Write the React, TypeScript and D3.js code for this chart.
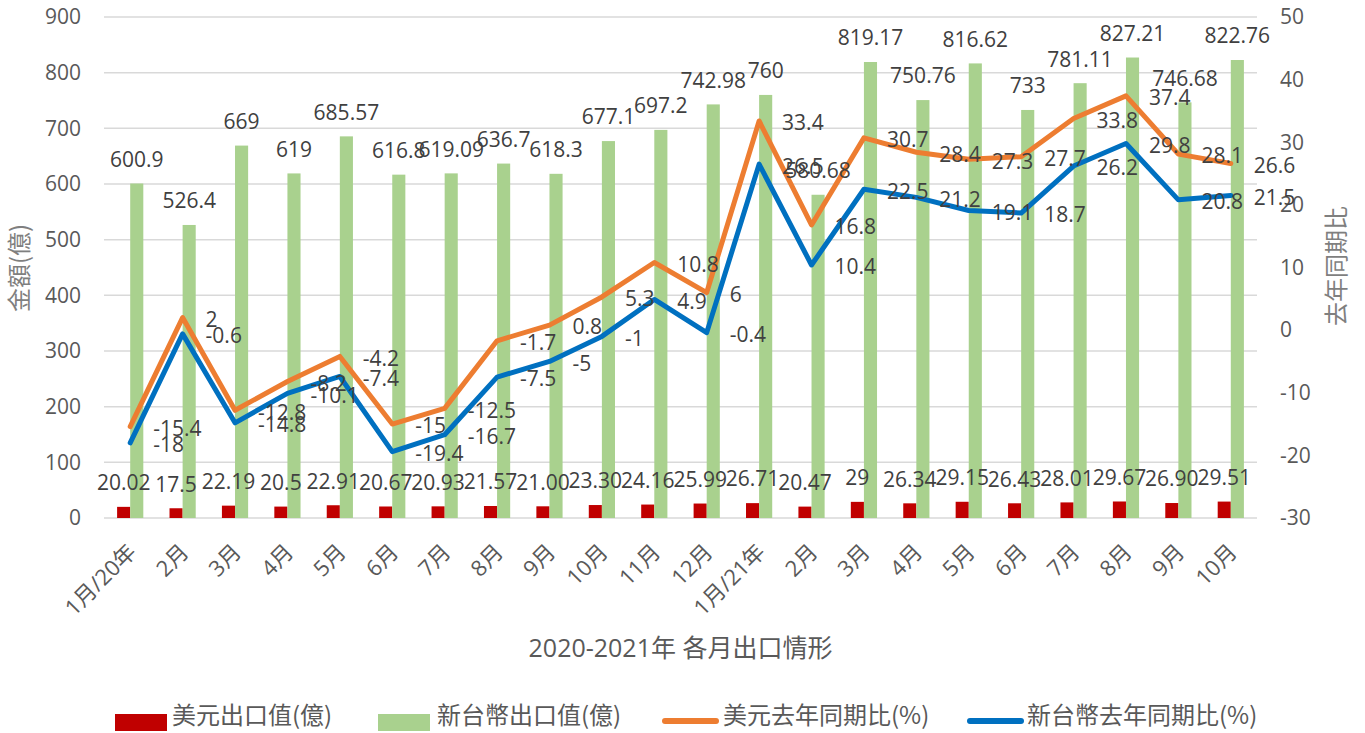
import React, { useEffect, useRef } from 'react';
import * as d3 from 'd3';

const months = [
  '1月/20年', '2月', '3月', '4月', '5月', '6月', '7月', '8月', '9月', '10月', '11月', '12月',
  '1月/21年', '2月', '3月', '4月', '5月', '6月', '7月', '8月', '9月', '10月',
];
// 美元出口值(億)
const usdValues = [
  20.02, 17.5, 22.19, 20.5, 22.91, 20.67, 20.93, 21.57, 21.0, 23.3, 24.16, 25.99,
  26.71, 20.47, 29, 26.34, 29.15, 26.43, 28.01, 29.67, 26.9, 29.51,
];
const usdLabels = [
  '20.02', '17.5', '22.19', '20.5', '22.91', '20.67', '20.93', '21.57', '21.00', '23.30', '24.16', '25.99',
  '26.71', '20.47', '29', '26.34', '29.15', '26.43', '28.01', '29.67', '26.90', '29.51',
];
// 新台幣出口值(億)
const ntdValues = [
  600.9, 526.4, 669, 619, 685.57, 616.8, 619.09, 636.7, 618.3, 677.1, 697.2, 742.98,
  760, 580.68, 819.17, 750.76, 816.62, 733, 781.11, 827.21, 746.68, 822.76,
];
// 美元去年同期比(%)
const usdYoY = [
  -15.4, 2, -12.8, -8.2, -4.2, -15, -12.5, -1.7, 0.8, 5.3, 10.8, 6,
  33.4, 16.8, 30.7, 28.4, 27.3, 27.7, 33.8, 37.4, 28.1, 26.6,
];
// 新台幣去年同期比(%)
const ntdYoY = [
  -18, -0.6, -14.8, -10.1, -7.4, -19.4, -16.7, -7.5, -5, -1, 4.9, -0.4,
  26.5, 10.4, 22.5, 21.2, 19.1, 18.7, 26.2, 29.8, 20.8, 21.5,
];
const leftTicks = [0, 100, 200, 300, 400, 500, 600, 700, 800, 900];
const rightTicks = [-30, -20, -10, 0, 10, 20, 30, 40, 50];
const seriesNames = ['美元出口值(億)', '新台幣出口值(億)', '美元去年同期比(%)', '新台幣去年同期比(%)'];

const W = 1365;
const H = 733;
const NUM_FONT = "'Open Sans', 'Noto Sans CJK TC', sans-serif";
const CJK_FONT = "'Noto Sans CJK TC', 'Open Sans', sans-serif";

export default function App() {
  const ref = useRef<SVGSVGElement>(null);

  useEffect(() => {
    document.body.style.margin = '0';
    const svg = d3.select(ref.current);
    svg.selectAll('*').remove();

    const left = 104;
    const right = 1257;
    const top = 17;
    const bottom = 518;

    const x = d3
      .scaleBand<number>()
      .domain(d3.range(months.length))
      .range([left, right])
      .paddingInner(0.5)
      .paddingOuter(0.25);
    const sub = d3.scaleBand<string>().domain(['usd', 'ntd']).range([0, x.bandwidth()]);
    const yL = d3.scaleLinear().domain([0, 900]).range([bottom, top]);
    const yR = d3.scaleLinear().domain([-30, 50]).range([bottom, top]);
    const cx = (i: number) => (x(i) as number) + x.bandwidth() / 2;

    // gridlines
    svg
      .append('g')
      .selectAll('line')
      .data(leftTicks)
      .enter()
      .append('line')
      .attr('x1', left)
      .attr('x2', right)
      .attr('y1', (d) => yL(d))
      .attr('y2', (d) => yL(d))
      .style('stroke', '#d9d9d9')
      .style('stroke-width', 1.5);

    // tick labels
    svg
      .append('g')
      .selectAll('text')
      .data(leftTicks)
      .enter()
      .append('text')
      .attr('x', 81)
      .attr('y', (d) => yL(d))
      .attr('dy', '0.35em')
      .attr('text-anchor', 'end')
      .style('font-family', NUM_FONT)
      .style('font-size', '21px')
      .style('fill', '#595959')
      .text((d) => d);
    svg
      .append('g')
      .selectAll('text')
      .data(rightTicks)
      .enter()
      .append('text')
      .attr('x', 1280)
      .attr('y', (d) => yR(d))
      .attr('dy', '0.35em')
      .attr('text-anchor', 'start')
      .style('font-family', NUM_FONT)
      .style('font-size', '21px')
      .style('fill', '#595959')
      .text((d) => d);

    // axis titles
    svg
      .append('text')
      .attr('transform', 'translate(20,268) rotate(-90)')
      .attr('dy', '0.35em')
      .attr('text-anchor', 'middle')
      .style('font-family', CJK_FONT)
      .style('font-size', '24px')
      .style('fill', '#7f7f7f')
      .text('金額(億)');
    svg
      .append('text')
      .attr('transform', 'translate(1337,266) rotate(-90)')
      .attr('dy', '0.35em')
      .attr('text-anchor', 'middle')
      .style('font-family', CJK_FONT)
      .style('font-size', '24px')
      .style('fill', '#7f7f7f')
      .text('去年同期比');

    // month labels
    svg
      .append('g')
      .selectAll('text')
      .data(months)
      .enter()
      .append('text')
      .attr('transform', (d, i) => `translate(${cx(i) - 5},541) rotate(-45)`)
      .attr('dy', '0.8em')
      .attr('text-anchor', 'end')
      .style('font-family', NUM_FONT)
      .style('font-size', '22px')
      .style('fill', '#595959')
      .text((d) => d);

    svg
      .append('text')
      .attr('x', (left + right) / 2)
      .attr('y', 648)
      .attr('dy', '0.35em')
      .attr('text-anchor', 'middle')
      .style('font-family', NUM_FONT)
      .style('font-size', '25px')
      .style('fill', '#595959')
      .text('2020-2021年 各月出口情形');

    // bars
    svg
      .append('g')
      .selectAll('rect')
      .data(usdValues)
      .enter()
      .append('rect')
      .attr('x', (d, i) => (x(i) as number) + (sub('usd') as number))
      .attr('y', (d) => yL(d))
      .attr('width', sub.bandwidth())
      .attr('height', (d) => bottom - yL(d))
      .style('fill', '#c00000');
    svg
      .append('g')
      .selectAll('rect')
      .data(ntdValues)
      .enter()
      .append('rect')
      .attr('x', (d, i) => (x(i) as number) + (sub('ntd') as number))
      .attr('y', (d) => yL(d))
      .attr('width', sub.bandwidth())
      .attr('height', (d) => bottom - yL(d))
      .style('fill', '#a9d18e');

    // lines
    const line = d3
      .line<number>()
      .x((d, i) => cx(i))
      .y((d) => yR(d));
    svg
      .append('path')
      .attr('d', line(usdYoY))
      .style('fill', 'none')
      .style('stroke', '#ed7d31')
      .style('stroke-width', 5)
      .style('stroke-linejoin', 'round')
      .style('stroke-linecap', 'round');
    svg
      .append('path')
      .attr('d', line(ntdYoY))
      .style('fill', 'none')
      .style('stroke', '#0070c0')
      .style('stroke-width', 5)
      .style('stroke-linejoin', 'round')
      .style('stroke-linecap', 'round');

    // data labels
    const labelStyle = (sel: any) =>
      sel
        .attr('dy', '0.35em')
        .style('font-family', NUM_FONT)
        .style('font-size', '21px')
        .style('fill', '#404040');

    svg
      .append('g')
      .selectAll('text')
      .data(usdValues)
      .enter()
      .append('text')
      .attr('x', (d, i) => (x(i) as number) + (sub('usd') as number) + sub.bandwidth() / 2)
      .attr('y', (d) => yL(d) - 24)
      .attr('text-anchor', 'middle')
      .call(labelStyle)
      .text((d, i) => usdLabels[i]);
    svg
      .append('g')
      .selectAll('text')
      .data(ntdValues)
      .enter()
      .append('text')
      .attr('x', (d, i) => (x(i) as number) + (sub('ntd') as number) + sub.bandwidth() / 2)
      .attr('y', (d) => yL(d) - 24)
      .attr('text-anchor', 'middle')
      .call(labelStyle)
      .text((d) => d);
    [usdYoY, ntdYoY].forEach((series) => {
      svg
        .append('g')
        .selectAll('text')
        .data(series)
        .enter()
        .append('text')
        .attr('x', (d, i) => cx(i) + 23)
        .attr('y', (d) => yR(d) + 2)
        .attr('text-anchor', 'start')
        .call(labelStyle)
        .text((d) => d);
    });

    // legend
    const lg = svg.append('g').style('font-family', CJK_FONT).style('font-size', '24px').style('fill', '#595959');
    lg.append('rect').attr('x', 115).attr('y', 714).attr('width', 52).attr('height', 17).style('fill', '#c00000');
    lg.append('text').attr('x', 172).attr('y', 716).attr('dy', '0.35em').text(seriesNames[0]);
    lg.append('rect').attr('x', 378).attr('y', 714).attr('width', 52).attr('height', 17).style('fill', '#a9d18e');
    lg.append('text').attr('x', 437).attr('y', 716).attr('dy', '0.35em').text(seriesNames[1]);
    lg.append('line')
      .attr('x1', 665).attr('x2', 716).attr('y1', 721).attr('y2', 721)
      .style('stroke', '#ed7d31').style('stroke-width', 6).style('stroke-linecap', 'round');
    lg.append('text').attr('x', 723).attr('y', 716).attr('dy', '0.35em').text(seriesNames[2]);
    lg.append('line')
      .attr('x1', 970).attr('x2', 1021).attr('y1', 721).attr('y2', 721)
      .style('stroke', '#0070c0').style('stroke-width', 6).style('stroke-linecap', 'round');
    lg.append('text').attr('x', 1027).attr('y', 716).attr('dy', '0.35em').text(seriesNames[3]);
  }, []);

  return <svg ref={ref} width={W} height={H} style={{ display: 'block' }} />;
}
